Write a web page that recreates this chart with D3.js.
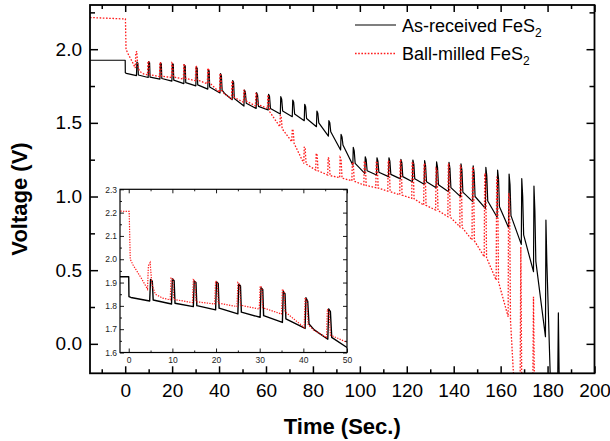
<!DOCTYPE html>
<html><head><meta charset="utf-8">
<script src="https://cdn.jsdelivr.net/npm/d3@7"></script>
<style>body{margin:0;background:#fff}svg{display:block}</style>
</head><body><svg id="c" width="610" height="441"></svg>
<script>
// ---------- data (time in s, voltage in V) ----------
const asReceived = [
 [-15,1.925],[0,1.925],[0.05,1.84],[0.5,1.836],
 [4.8,1.821],[5.0,1.913],[5.4,1.906],[5.6,1.825],
 [9.8,1.808],[10.0,1.916],[10.4,1.908],[10.6,1.811],
 [14.8,1.797],[15.0,1.907],[15.4,1.9],[15.6,1.801],
 [19.9,1.783],[20.1,1.903],[20.5,1.896],[20.7,1.79],
 [25.0,1.766],[25.2,1.893],[25.6,1.885],[25.8,1.773],
 [30.1,1.751],[30.3,1.878],[30.7,1.87],[30.9,1.758],
 [35.2,1.729],[35.4,1.862],[35.8,1.852],[36.0,1.744],
 [40.4,1.703],[40.6,1.835],[41.0,1.82],[41.3,1.722],[42.5,1.697],
 [45.6,1.657],[45.8,1.787],[46.2,1.775],[46.5,1.665],
 [50.6,1.614],[50.8,1.723],[51.2,1.71],[51.6,1.633],
 [55.8,1.598],[56.0,1.705],[56.4,1.69],[56.8,1.612],
 [60.9,1.587],[61.1,1.694],[61.5,1.68],[61.9,1.598],
 [66.1,1.56],[66.3,1.678],[66.7,1.66],[67.1,1.58],
 [71.2,1.542],[71.4,1.655],[71.8,1.64],[72.2,1.56],
 [76.3,1.515],[76.5,1.626],[76.9,1.61],[77.3,1.53],
 [81.5,1.474],[81.7,1.58],[82.1,1.565],[82.5,1.5],
 [86.6,1.41],[86.8,1.515],[87.2,1.5],[87.6,1.44],
 [91.8,1.316],[92.0,1.422],[92.4,1.405],[92.8,1.35],
 [97.0,1.214],[97.2,1.334],[97.6,1.31],[98.0,1.225],
 [102.1,1.157],[102.3,1.27],[102.7,1.25],[103.1,1.175],
 [107.1,1.146],[107.3,1.263],[107.7,1.24],[108.1,1.165],
 [112.2,1.135],[112.4,1.263],[112.8,1.24],[113.2,1.15],
 [117.3,1.12],[117.5,1.252],[117.9,1.23],[118.3,1.135],
 [122.4,1.1],[122.6,1.248],[123.0,1.22],[123.4,1.12],
 [127.4,1.083],[127.6,1.243],[128.0,1.21],[128.4,1.1],
 [132.5,1.06],[132.7,1.236],[133.1,1.2],[133.5,1.08],
 [137.8,1.033],[138.0,1.232],[138.4,1.19],[138.8,1.06],
 [142.9,0.999],[143.1,1.221],[143.5,1.18],[143.9,1.03],
 [148.1,0.965],[148.3,1.209],[148.7,1.16],[149.1,1.0],
 [153.5,0.92],[153.7,1.198],[154.1,1.14],[154.5,0.97],
 [158.5,0.859],[158.7,1.18],[159.1,1.12],[159.5,0.93],
 [163.4,0.788],[163.6,1.153],[164.0,1.08],[164.4,0.87],
 [168.8,0.675],[169.0,1.121],[169.4,1.0],[169.8,0.74],
 [174.0,0.49],[174.2,1.071],[174.6,0.9],[175.0,0.56],
 [179.1,0.048],[179.3,0.84],[179.7,0.55],[181.3,-0.3],
 [184.3,-0.3],[184.6,0.21],[185.0,-0.3],[186,-0.5]
];
const ballMilled = [
 [-15,2.215],[0.1,2.205],[0.35,2.0],[1.0,1.975],[2.0,1.945],[3.0,1.915],[4.3,1.872],
 [4.5,1.972],[4.9,1.986],[5.3,1.893],[6.1,1.85],[7.8,1.833],
 [9.5,1.826],[9.7,1.919],[10.1,1.915],[10.3,1.828],
 [14.6,1.814],[14.8,1.912],[15.2,1.906],[15.4,1.818],
 [19.7,1.808],[19.9,1.907],[20.3,1.9],[20.5,1.812],
 [24.8,1.797],[25.0,1.9],[25.4,1.893],[25.6,1.803],
 [29.9,1.786],[30.1,1.886],[30.5,1.878],[30.7,1.792],
 [35.0,1.765],[35.2,1.872],[35.6,1.862],[35.8,1.775],
 [40.2,1.707],[40.4,1.836],[40.8,1.822],[41.1,1.72],[42.3,1.697],
 [45.3,1.664],[45.5,1.786],[45.9,1.775],[46.2,1.675],
 [50.4,1.64],[50.6,1.725],[51.0,1.712],[51.4,1.65],
 [55.5,1.615],[55.7,1.705],[56.1,1.69],[56.5,1.625],
 [60.6,1.598],[60.8,1.69],[61.2,1.67],[61.6,1.575],
 [65.9,1.474],[66.1,1.553],[66.5,1.54],[66.9,1.46],
 [71.0,1.372],[71.2,1.458],[71.6,1.445],[72.0,1.36],
 [76.1,1.225],[76.3,1.338],[76.7,1.325],[77.1,1.22],
 [81.2,1.18],[81.4,1.293],[81.8,1.28],[82.2,1.175],
 [86.3,1.146],[86.5,1.266],[86.9,1.255],[87.3,1.142],
 [91.4,1.128],[91.6,1.266],[92.0,1.255],[92.4,1.125],
 [96.6,1.107],[96.8,1.234],[97.2,1.225],[97.6,1.104],
 [101.7,1.078],[101.9,1.24],[102.3,1.23],[102.7,1.075],
 [106.8,1.06],[107.0,1.24],[107.4,1.23],[107.8,1.058],
 [111.9,1.036],[112.1,1.245],[112.5,1.235],[112.9,1.033],
 [117.0,1.012],[117.2,1.25],[117.6,1.24],[118.0,1.01],
 [122.1,0.988],[122.3,1.236],[122.7,1.225],[123.1,0.985],
 [127.2,0.942],[127.4,1.225],[127.8,1.215],[128.2,0.94],
 [132.3,0.908],[132.5,1.19],[132.9,1.18],[133.3,0.905],
 [137.5,0.863],[137.7,1.225],[138.1,1.215],[138.5,0.86],
 [142.6,0.795],[142.8,1.214],[143.2,1.2],[143.6,0.79],
 [147.8,0.705],[148.0,1.202],[148.4,1.19],[148.8,0.7],
 [153.0,0.591],[153.2,1.157],[153.6,1.145],[154.0,0.585],
 [158.1,0.433],[158.3,1.134],[158.7,1.12],[159.1,0.42],
 [163.2,0.184],[163.4,1.022],[163.8,1.0],[164.2,0.16],[165.8,-0.3],
 [168.3,-0.3],[168.6,0.659],[169.0,-0.3],
 [173.7,-0.3],[174.0,0.32],[174.4,-0.3]
];
const seriesLabels = ["As-received FeS", "Ball-milled FeS"];
const xTicks = [0,20,40,60,80,100,120,140,160,180,200];
const yTicks = [0.0,0.5,1.0,1.5,2.0];
const insetXTicks = [0,10,20,30,40,50];
const insetYTicks = [1.6,1.7,1.8,1.9,2.0,2.1,2.2,2.3];

// ---------- layout ----------
const FONT = '"Liberation Sans", Arial, Helvetica, sans-serif';
const svg = d3.select("#c").attr("font-family", FONT);
const P = {l:90, r:594.5, t:5, b:373.3};
const x = d3.scaleLinear().domain([-15,200]).range([P.l,P.r]);
const y = d3.scaleLinear().domain([-0.2,2.3]).range([P.b,P.t]);
const I = {l:120, r:347, t:189.3, b:352.5};
const xi = d3.scaleLinear().domain([-2,50]).range([I.l,I.r]);
const yi = d3.scaleLinear().domain([1.6,2.3]).range([I.b,I.t]);

const defs = svg.append("defs");
defs.append("clipPath").attr("id","mainClip").append("rect")
  .attr("x",P.l).attr("y",P.t).attr("width",P.r-P.l).attr("height",P.b-P.t);
defs.append("clipPath").attr("id","insetClip").append("rect")
  .attr("x",I.l).attr("y",I.t).attr("width",I.r-I.l).attr("height",I.b-I.t);

const lineMain = d3.line().x(d=>x(d[0])).y(d=>y(d[1]));
const lineInset = d3.line().x(d=>xi(d[0])).y(d=>yi(d[1]));

const RED = "#ff1a1a";
// main data
const gm = svg.append("g").attr("clip-path","url(#mainClip)");
gm.append("path").datum(asReceived).attr("d",lineMain)
  .attr("fill","none").attr("stroke","#000").attr("stroke-width",1.2).attr("stroke-linejoin","round");
gm.append("path").datum(ballMilled).attr("d",lineMain)
  .attr("fill","none").attr("stroke",RED).attr("stroke-width",1.3).attr("stroke-dasharray","1.6,1.6");

function styleAxis(g, size, sw){
  g.select(".domain").remove();
  g.attr("font-family",FONT).attr("font-size",size);
  g.selectAll("line").attr("stroke","#000").attr("stroke-width",sw);
  g.selectAll("text").attr("fill","#000");
}
// main axes major/minor ticks
const xMinor = d3.range(-10,200,20);
const yMinor = [0.25,0.75,1.25,1.75,2.25];
svg.append("g").attr("transform",`translate(0,${P.b})`)
  .call(d3.axisBottom(x).tickValues(xTicks).tickSize(-7).tickPadding(10).tickFormat(d3.format("d")))
  .call(g=>styleAxis(g,19,1.5));
svg.append("g").attr("transform",`translate(0,${P.b})`)
  .call(d3.axisBottom(x).tickValues(xMinor).tickSize(-4).tickFormat(""))
  .call(g=>styleAxis(g,19,1.5));
svg.append("g").attr("transform",`translate(0,${P.t})`)
  .call(d3.axisTop(x).tickValues(xTicks).tickSize(-7).tickFormat(""))
  .call(g=>styleAxis(g,19,1.5));
svg.append("g").attr("transform",`translate(0,${P.t})`)
  .call(d3.axisTop(x).tickValues(xMinor).tickSize(-4).tickFormat(""))
  .call(g=>styleAxis(g,19,1.5));
svg.append("g").attr("transform",`translate(${P.l},0)`)
  .call(d3.axisLeft(y).tickValues(yTicks).tickSize(-8).tickPadding(8).tickFormat(d3.format(".1f")))
  .call(g=>styleAxis(g,19,1.5));
svg.append("g").attr("transform",`translate(${P.l},0)`)
  .call(d3.axisLeft(y).tickValues(yMinor).tickSize(-5).tickFormat(""))
  .call(g=>styleAxis(g,19,1.5));
svg.append("g").attr("transform",`translate(${P.r},0)`)
  .call(d3.axisRight(y).tickValues(yTicks).tickSize(-8).tickFormat(""))
  .call(g=>styleAxis(g,19,1.5));
svg.append("g").attr("transform",`translate(${P.r},0)`)
  .call(d3.axisRight(y).tickValues(yMinor).tickSize(-5).tickFormat(""))
  .call(g=>styleAxis(g,19,1.5));
svg.append("rect").attr("x",P.l).attr("y",P.t).attr("width",P.r-P.l).attr("height",P.b-P.t)
  .attr("fill","none").attr("stroke","#000").attr("stroke-width",1.8);

// axis titles
svg.append("text").attr("x",(P.l+P.r)/2).attr("y",434).attr("text-anchor","middle")
  .attr("font-size",22).attr("font-weight","bold").text("Time (Sec.)");
svg.append("text").attr("transform","translate(27,199) rotate(-90)").attr("text-anchor","middle")
  .attr("font-size",22).attr("font-weight","bold").text("Voltage (V)");

// legend
const legY = [25, 53.5];
const legStyles = [{stroke:"#000",dash:null,w:1.2},{stroke:RED,dash:"1.6,1.6",w:1.3}];
seriesLabels.forEach((lab,i)=>{
  svg.append("line").attr("x1",355).attr("x2",396).attr("y1",legY[i]).attr("y2",legY[i])
    .attr("stroke",legStyles[i].stroke).attr("stroke-width",legStyles[i].w)
    .attr("stroke-dasharray",legStyles[i].dash);
  const t = svg.append("text").attr("x",402).attr("y",legY[i]+6.5).attr("font-size",18).attr("fill","#000");
  t.append("tspan").text(lab);
  t.append("tspan").attr("font-size",12).attr("dy",5).text("2");
});

// inset
svg.append("rect").attr("x",I.l).attr("y",I.t).attr("width",I.r-I.l).attr("height",I.b-I.t)
  .attr("fill","#fff");
const gi = svg.append("g").attr("clip-path","url(#insetClip)");
gi.append("path").datum(asReceived).attr("d",lineInset)
  .attr("fill","none").attr("stroke","#000").attr("stroke-width",1.4).attr("stroke-linejoin","round");
gi.append("path").datum(ballMilled).attr("d",lineInset)
  .attr("fill","none").attr("stroke",RED).attr("stroke-width",1.2).attr("stroke-dasharray","1.3,1.3");

const ixMinor = d3.range(5,50,10);
const iyMinor = [1.65,1.75,1.85,1.95,2.05,2.15,2.25];
function styleInset(g){ styleAxis(g,8.5,0.9); g.selectAll("text").attr("fill","#222"); }
svg.append("g").attr("transform",`translate(0,${I.b})`)
  .call(d3.axisBottom(xi).tickValues(insetXTicks).tickSize(-4).tickPadding(4).tickFormat(d3.format("d")))
  .call(styleInset);
svg.append("g").attr("transform",`translate(0,${I.b})`)
  .call(d3.axisBottom(xi).tickValues(ixMinor).tickSize(-2).tickFormat("")).call(styleInset);
svg.append("g").attr("transform",`translate(0,${I.t})`)
  .call(d3.axisTop(xi).tickValues(insetXTicks).tickSize(-4).tickFormat("")).call(styleInset);
svg.append("g").attr("transform",`translate(0,${I.t})`)
  .call(d3.axisTop(xi).tickValues(ixMinor).tickSize(-2).tickFormat("")).call(styleInset);
svg.append("g").attr("transform",`translate(${I.l},0)`)
  .call(d3.axisLeft(yi).tickValues(insetYTicks).tickSize(-4).tickPadding(3).tickFormat(d3.format(".1f")))
  .call(styleInset);
svg.append("g").attr("transform",`translate(${I.l},0)`)
  .call(d3.axisLeft(yi).tickValues(iyMinor).tickSize(-2).tickFormat("")).call(styleInset);
svg.append("g").attr("transform",`translate(${I.r},0)`)
  .call(d3.axisRight(yi).tickValues(insetYTicks).tickSize(-4).tickFormat("")).call(styleInset);
svg.append("g").attr("transform",`translate(${I.r},0)`)
  .call(d3.axisRight(yi).tickValues(iyMinor).tickSize(-2).tickFormat("")).call(styleInset);
svg.append("rect").attr("x",I.l).attr("y",I.t).attr("width",I.r-I.l).attr("height",I.b-I.t)
  .attr("fill","none").attr("stroke","#000").attr("stroke-width",1.2);
</script></body></html>
